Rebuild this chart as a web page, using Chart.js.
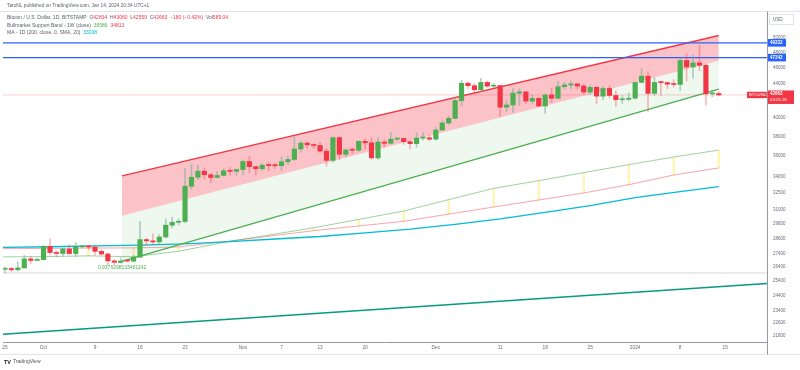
<!DOCTYPE html>
<html lang="en">
<head>
<meta charset="UTF-8">
<title>BTCUSD 1D</title>
<script src="https://cdn.jsdelivr.net/npm/chart.js@4.4.1/dist/chart.umd.min.js"></script>
<style>
  html, body { margin: 0; padding: 0; background: #fff; }
  #wrap { position: relative; width: 800px; height: 370px; }
</style>
</head>
<body>
<div id="wrap"><canvas id="btcChart" width="800" height="370"></canvas></div>
<script>
// daily candles, index 0 = Sep 25 2023 ... 111 = Jan 14 2024
const opens  = [26250,26300,26210,26350,27020,26900,26960,27980,27500,27430,27780,27420,27940,27960,27930,27590,27390,26870,26760,26860,26850,27150,28510,28410,28330,28720,29680,29920,29990,33080,33920,34500,34160,33900,34090,34540,34490,34660,35440,34940,34730,35080,35040,35030,35420,35640,36700,37310,37130,37060,36480,35550,37880,36160,36600,36570,37490,37340,35800,37420,37290,37720,37790,37460,37250,37830,37860,37720,38690,39460,39970,41990,44080,43780,43290,44180,43720,43800,41240,41490,42880,43030,41940,42260,41370,42660,42270,43660,43870,44000,43740,43010,43580,42520,43440,42600,42100,42150,42280,44180,44960,42850,44180,44160,43960,43930,46970,46120,46650,46340,42790,42834];
const highs  = [26430,26390,26820,27300,27230,27080,28050,28580,27660,27830,28120,28280,28030,28100,27990,27740,27480,26940,27100,26950,27290,30000,28610,28970,28930,30220,30350,30200,34770,35200,35100,34820,34240,34460,34750,34850,34720,35580,35960,34950,35270,35380,35280,35890,35990,37950,37530,37400,37230,37420,36770,37960,37950,36710,36840,37530,37740,37850,37880,37650,38420,37890,37820,37590,38380,38430,38170,38960,39690,40200,42400,44450,44290,44050,44700,44360,44040,43800,42100,43430,43420,43080,42720,42420,42760,43480,44280,44220,44390,44020,43950,43800,43600,43680,43790,43120,42600,42900,44200,45900,45500,44780,44350,44220,44500,47200,47900,47700,49000,46500,43250,43060];
const lows   = [25990,26090,26120,26330,26660,26880,26940,27320,27170,27220,27360,27180,27860,27720,27300,27300,26560,26560,26690,26810,26800,27110,28100,28150,28180,28640,29470,29690,29890,32850,33700,33740,33390,33880,34040,34090,34060,34110,34350,34120,34580,34540,34750,34540,35120,35540,36360,36760,36750,36350,34980,35370,35630,35890,36220,36430,36680,35650,35660,36880,37250,37600,37150,36700,36880,37600,37520,37620,38650,39300,39970,41400,43400,42850,43100,43600,43580,40200,40680,40650,41430,41680,41700,41270,40530,41810,42200,43360,43430,43340,42760,42740,41660,42100,42310,41320,41650,41960,42180,44180,40750,42630,42600,43400,43600,43190,44340,44700,45630,41500,42440,42559];
const closes = [26300,26210,26350,27020,26900,26960,27980,27500,27430,27780,27420,27940,27960,27930,27590,27390,26870,26760,26860,26850,27150,28510,28410,28330,28720,29680,29920,29990,33080,33920,34500,34160,33900,34090,34540,34490,34660,35440,34940,34730,35080,35040,35030,35420,35640,36700,37310,37130,37060,36480,35550,37880,36160,36600,36570,37490,37340,35800,37420,37290,37720,37790,37460,37250,37830,37860,37720,38690,39460,39970,41990,44080,43780,43290,44180,43720,43800,41240,41490,42880,43030,41940,42260,41370,42660,42270,43660,43870,44000,43740,43010,43580,42520,43440,42600,42100,42150,42280,44180,44960,42850,44180,44160,43960,43930,46970,46120,46650,46340,42790,42840,42663];

// x axis ticks (day index) and their labels
const tickDays   = [0, 6, 14, 21, 28, 37, 43, 49, 56, 67, 77, 84, 91, 98, 105, 112];
const tickLabels = ['25', 'Oct', '9', '16', '23', 'Nov', '7', '13', '20', 'Dec', '11', '18', '25', '2024', '8', '15'];

// price axis labels
const priceTicks = [50000, 48000, 46000, 44000, 42000, 40000, 38000, 36000, 34000, 32500, 31000, 29800, 28600, 27400, 26400, 25400, 24400, 23400, 22600, 21800];

// drawn channel (day, price)
const channelDays  = [18.2, 111];
const channelUpper = [34040, 50350];
const channelMid   = [30475, 46935];
const lowerDays    = [17.6, 111];
const channelLower = [26750, 43375];
const channelLabel = '0.9376298133481142';

// Bullmarket support band, weekly points
const bandDays = [-1, 6, 13, 20, 27, 34, 41, 48, 55, 62, 69, 76, 83, 90, 97, 104, 111];
const sma20w   = [27170, 27190, 27250, 27180, 27600, 28290, 28870, 29465, 30165, 30870, 31870, 32885, 33600, 34360, 35130, 35890, 36586];
const ema21w   = [27800, 27820, 27850, 27860, 27930, 28345, 28775, 29230, 29615, 30000, 30610, 31220, 31840, 32465, 33225, 34135, 34813];

// MA 200 (1D)
const maDays = [-0.5, 7, 14, 21, 28, 35, 42, 49, 56, 63, 70, 77, 84, 91, 98, 105, 111];
const ma200  = [27900, 27950, 28010, 28080, 28180, 28350, 28560, 28760, 29050, 29350, 29750, 30200, 30750, 31350, 32050, 32580, 33038];

// horizontal levels and the long trend line
const blueLevels = [49332, 47342];
const lastPrice = 42663;
const grayLevel = 25980;
const trendDays = [-0.31, 118.5];
const trendVals = [21900, 25230];

const X_MIN = -0.31, X_MAX = 118.5;
const UP = '#4caf50', DOWN = '#f23645', BLUE = '#2962ff';

const isUp = opens.map((o, i) => closes[i] >= o);
const pts = (xs, ys) => xs.map((d, i) => ({x: d, y: ys[i]}));
const flat = v => [{x: X_MIN, y: v}, {x: X_MAX, y: v}];

const lineDs = (data, color, width, order, extra) => Object.assign({
    type: 'line', data, borderColor: color, borderWidth: width,
    pointRadius: 0, tension: 0, fill: false, order
}, extra || {});

const datasets = [
    { // 0 bodies
        type: 'bar', order: 0, grouped: false, barThickness: 4.5, minBarLength: 1,
        data: opens.map((o, i) => ({x: i, y: [o, closes[i]]})),
        backgroundColor: isUp.map(u => u ? UP : DOWN), borderWidth: 0
    },
    { // 1 wicks
        type: 'bar', order: 1, grouped: false, barThickness: 1,
        data: lows.map((l, i) => ({x: i, y: [l, highs[i]]})),
        backgroundColor: isUp.map(u => u ? 'rgba(120,170,160,0.55)' : 'rgba(242,54,69,0.35)'), borderWidth: 0
    },
    lineDs(pts(channelDays, channelUpper), DOWN, 1.3, 3),                                  // 2
    lineDs(pts(channelDays, channelMid), 'rgba(0,0,0,0)', 0, 4,
        {fill: 2, backgroundColor: 'rgba(242,54,69,0.3)'}),                                // 3
    lineDs(pts(channelDays, channelMid), 'rgba(0,0,0,0)', 0, 4,
        {fill: 5, backgroundColor: 'rgba(76,175,80,0.09)'}),                               // 4
    lineDs(pts(lowerDays, channelLower), UP, 1.3, 3),                                      // 5
    lineDs(flat(blueLevels[0]), BLUE, 1.3, 2),                                             // 6
    lineDs(flat(blueLevels[1]), BLUE, 1.3, 2),                                             // 7
    lineDs(flat(lastPrice), 'rgba(242,54,69,0.25)', 1, 2),                                 // 8
    lineDs(pts(maDays, ma200), '#00bcd4', 1.3, 5),                                         // 9
    lineDs(pts(bandDays, sma20w), 'rgba(76,175,80,0.55)', 1, 5),                           // 10
    lineDs(pts(bandDays, ema21w), 'rgba(242,54,69,0.45)', 1, 5),                           // 11
    { // 12 band fill (weekly)
        type: 'bar', order: 6, grouped: false, barThickness: 1.6,
        data: bandDays.slice(1).map((d, i) => ({x: d, y: [ema21w[i + 1], sma20w[i + 1]]})),
        backgroundColor: '#fff3b0', borderWidth: 0
    },
    lineDs(flat(grayLevel), '#d6d8de', 1, 7),                                              // 13
    lineDs(pts(trendDays, trendVals), '#089981', 1.4, 7)                                   // 14
];

const FONT = 'Arial, "Liberation Sans", sans-serif';
const GRAY = '#5d606b';

function runs(ctx, x, y, parts, size) {
    ctx.font = size + 'px ' + FONT;
    ctx.textBaseline = 'middle';
    ctx.textAlign = 'left';
    parts.forEach(([t, c]) => {
        ctx.fillStyle = c;
        ctx.fillText(t, x, y);
        x += ctx.measureText(t).width;
    });
}

function box(ctx, x, y, w, h, fill, text, color, size, bold) {
    ctx.fillStyle = fill;
    ctx.fillRect(x, y, w, h);
    ctx.fillStyle = color;
    ctx.font = (bold ? 'bold ' : '') + size + 'px ' + FONT;
    ctx.textAlign = 'left';
    ctx.textBaseline = 'middle';
    ctx.fillText(text, x + 2, y + h / 2 + 0.3);
}

const overlay = {
    id: 'overlay',
    afterDraw(chart) {
        const {ctx, scales: {x, y}, chartArea: a} = chart;
        ctx.save();

        // pane frame
        ctx.strokeStyle = '#e0e3eb';
        ctx.lineWidth = 1;
        ctx.beginPath();
        ctx.moveTo(0, 11.5); ctx.lineTo(800, 11.5);
        ctx.moveTo(0, 354.5); ctx.lineTo(800, 354.5);
        ctx.stroke();
        ctx.strokeStyle = '#9598a1';
        ctx.beginPath();
        ctx.moveTo(a.right + 0.5, 11.5); ctx.lineTo(a.right + 0.5, 354.5);
        ctx.stroke();

        // channel label
        ctx.fillStyle = UP;
        ctx.font = '5px ' + FONT;
        ctx.textAlign = 'center';
        ctx.textBaseline = 'middle';
        ctx.fillText(channelLabel, x.getPixelForValue(channelDays[0]), y.getPixelForValue(channelLower[0]) + 5);

        // header and legend
        runs(ctx, 7, 6, [['TaroNL published on TradingView.com, Jan 14, 2024 20:34 UTC+1', GRAY]], 4.8);
        runs(ctx, 7, 17.5, [
            ['Bitcoin / U.S. Dollar, 1D, BITSTAMP  ', GRAY],
            ['O', GRAY], ['42834  ', DOWN], ['H', GRAY], ['43060  ', DOWN],
            ['L', GRAY], ['42559  ', DOWN], ['C', GRAY], ['42663  ', DOWN],
            ['\u2212180 (\u22120.42%)  ', DOWN], ['Vol', GRAY], ['589.04', DOWN]
        ], 5);
        runs(ctx, 7, 25.3, [['Bullmarket Support Band - 1W (close)  ', GRAY], ['36586  ', UP], ['34813', DOWN]], 5);
        runs(ctx, 7, 33, [['MA - 1D (200, close, 0, SMA, 20)  ', GRAY], ['33038', '#00bcd4']], 5);

        // logo
        ctx.fillStyle = '#131722';
        ctx.font = 'bold 5.5px ' + FONT;
        ctx.fillText('TV', 4, 362);
        runs(ctx, 13, 362, [['TradingView', '#50535e']], 5);

        // price scale labels
        ctx.strokeStyle = '#e0e3eb';
        ctx.fillStyle = '#fff';
        ctx.fillRect(769.5, 14.5, 24, 10);
        ctx.strokeRect(769.5, 14.5, 24, 10);
        ctx.fillStyle = GRAY;
        ctx.font = '4.5px ' + FONT;
        ctx.textAlign = 'left';
        ctx.fillText('USD', 773, 19.8);

        blueLevels.forEach(v => {
            const py = y.getPixelForValue(v);
            box(ctx, a.right + 1, py - 3.8, 18, 7.6, BLUE, String(v), '#fff', 4.5, true);
        });
        const py = y.getPixelForValue(lastPrice);
        ctx.fillStyle = DOWN;
        ctx.fillRect(a.right + 1, py - 4.5, 26, 13.5);
        ctx.fillStyle = '#fff';
        ctx.font = 'bold 4.5px ' + FONT;
        ctx.fillText(String(lastPrice), a.right + 3, py - 1);
        ctx.font = '4.3px ' + FONT;
        ctx.fillText('04:25:18', a.right + 3, py + 5.3);
        box(ctx, a.right - 20, py - 3.2, 20, 6.4, DOWN, 'BTCUSD', '#fff', 4.3, false);

        ctx.restore();
    }
};

new Chart(document.getElementById('btcChart'), {
    type: 'line',
    data: {datasets},
    options: {
        responsive: false,
        animation: false,
        devicePixelRatio: 1,
        layout: {padding: {left: 3, top: 12, right: 0, bottom: 0}},
        plugins: {legend: {display: false}, tooltip: {enabled: false}},
        scales: {
            x: {
                type: 'linear', min: X_MIN, max: X_MAX, offset: false,
                grid: {display: false, drawTicks: true, tickLength: 3},
                border: {display: true, color: '#9598a1'},
                afterBuildTicks: ax => { ax.ticks = tickDays.map(v => ({value: v})); },
                afterFit: ax => { ax.height = 28; },
                ticks: {
                    autoSkip: false, maxRotation: 0, padding: 0,
                    color: '#6a6d78', font: {size: 4.8, family: FONT},
                    callback: v => tickLabels[tickDays.indexOf(v)]
                }
            },
            y: {
                type: 'logarithmic', position: 'right', min: 21434, max: 53757,
                grid: {display: false, drawTicks: false},
                border: {display: false},
                afterBuildTicks: ax => { ax.ticks = priceTicks.map(v => ({value: v})); },
                afterFit: ax => { ax.width = 33; },
                ticks: {
                    autoSkip: false, padding: 6,
                    color: '#6a6d78', font: {size: 4.5, family: FONT},
                    callback: v => String(v)
                }
            }
        }
    },
    plugins: [overlay]
});
</script>
</body>
</html>
